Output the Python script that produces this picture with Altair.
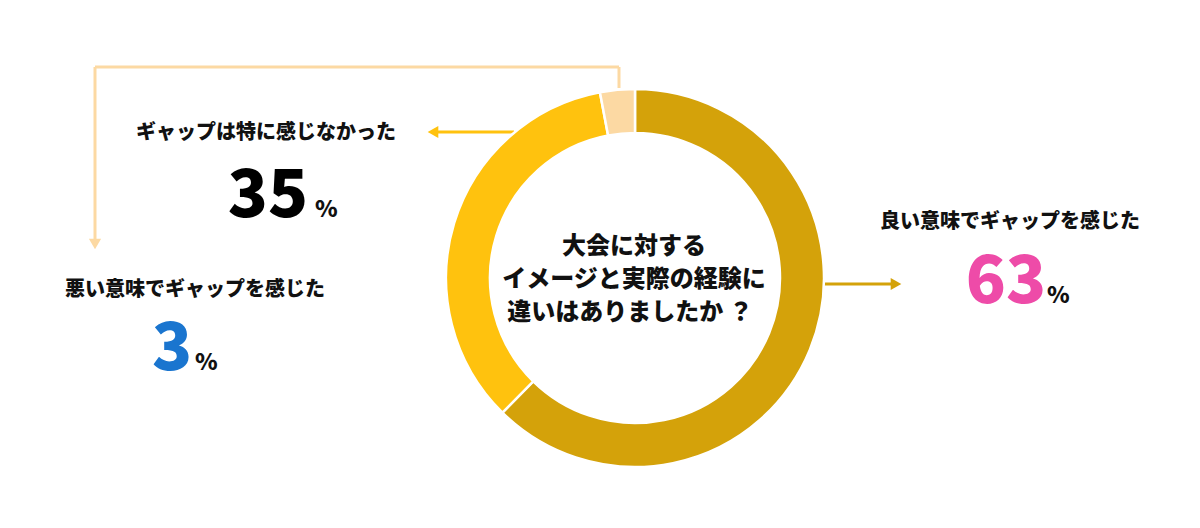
import altair as alt
import pandas as pd

# ---- data ----
categories = ["良い意味でギャップを感じた", "ギャップは特に感じなかった", "悪い意味でギャップを感じた"]
values = [63, 35, 3]
slice_colors = ["#D4A20A", "#FFC20E", "#FCD9A3"]
number_colors = ["#EE4BA8", "#000000", "#1A75CF"]
question_lines = ["大会に対する", "イメージと実際の経験に", "違いはありましたか ？"]

W, H = 1184, 512
FONT = "Noto Sans CJK JP"

# ---- layout (plot pixel coordinates) ----
cx, cy = 627, 270
r_out, r_in = 189, 145
title_pos = [(1002, 214), (258, 125), (187, 282)]
num_pos = [(998, 295), (260, 209), (164, 362)]
pct_pos = [(1039, 295), (307, 209), (187, 362)]
q_pos = [(626, 239), (626, 272), (622, 305)]

xs = alt.Scale(domain=[0, W], range=[0, W])
ys = alt.Scale(domain=[0, H], range=[0, H])

pie = pd.DataFrame({"cat": categories, "value": values, "order": [0, 1, 2]})
color_scale = alt.Scale(domain=categories, range=slice_colors)

donut = alt.Chart(pie).mark_arc(
    radius=r_out, radius2=r_in, stroke="white", strokeWidth=2.5
).encode(
    theta=alt.Theta("value:Q", stack=True),
    order=alt.Order("order:Q"),
    color=alt.Color("cat:N", scale=color_scale, legend=None),
    x=alt.value(cx),
    y=alt.value(cy),
)

# connectors
segs = pd.DataFrame([
    dict(x=611, y=80, x2=611, y2=59, c=slice_colors[2]),
    dict(x=611, y=59, x2=87, y2=59, c=slice_colors[2]),
    dict(x=87, y=59, x2=87, y2=232, c=slice_colors[2]),
    dict(x=506, y=124, x2=430, y2=124, c=slice_colors[1]),
    dict(x=815, y=276, x2=884, y2=276, c=slice_colors[0]),
])
rules = alt.Chart(segs).mark_rule(strokeWidth=3).encode(
    x=alt.X("x:Q", scale=xs, axis=None),
    y=alt.Y("y:Q", scale=ys, axis=None),
    x2="x2:Q", y2="y2:Q",
    color=alt.Color("c:N", scale=None),
)

heads = pd.DataFrame([
    dict(x=87, y=236, shape="triangle-down", c=slice_colors[2]),
    dict(x=425, y=124, shape="triangle-left", c=slice_colors[1]),
    dict(x=888, y=276, shape="triangle-right", c=slice_colors[0]),
])
arrowheads = alt.Chart(heads).mark_point(filled=True, size=150, opacity=1).encode(
    x=alt.X("x:Q", scale=xs, axis=None),
    y=alt.Y("y:Q", scale=ys, axis=None),
    shape=alt.Shape("shape:N", scale=None),
    color=alt.Color("c:N", scale=None),
)

lab = pd.DataFrame({
    "cat": categories,
    "num": [str(v) for v in values],
    "ncol": number_colors,
    "tx": [p[0] for p in title_pos], "ty": [p[1] for p in title_pos],
    "nx": [p[0] for p in num_pos], "ny": [p[1] for p in num_pos],
    "px": [p[0] for p in pct_pos], "py": [p[1] for p in pct_pos],
})

titles = alt.Chart(lab).mark_text(
    font=FONT, fontSize=20, fontWeight=900, color="#111111", align="center", baseline="middle"
).encode(
    x=alt.X("tx:Q", scale=xs, axis=None), y=alt.Y("ty:Q", scale=ys, axis=None), text="cat:N"
)
nums = alt.Chart(lab).mark_text(
    font=FONT, fontSize=66, fontWeight=900, align="center", baseline="alphabetic"
).encode(
    x=alt.X("nx:Q", scale=xs, axis=None), y=alt.Y("ny:Q", scale=ys, axis=None), text="num:N",
    color=alt.Color("ncol:N", scale=None),
)
pcts = alt.Chart(lab).mark_text(
    font=FONT, fontSize=23, fontWeight=900, color="#111111", align="left", baseline="alphabetic"
).encode(
    x=alt.X("px:Q", scale=xs, axis=None), y=alt.Y("py:Q", scale=ys, axis=None), text=alt.value("%")
)

qdf = pd.DataFrame({"t": question_lines, "x": [p[0] for p in q_pos], "y": [p[1] for p in q_pos]})
question = alt.Chart(qdf).mark_text(
    font=FONT, fontSize=24, fontWeight=900, color="#111111", align="center", baseline="middle"
).encode(
    x=alt.X("x:Q", scale=xs, axis=None), y=alt.Y("y:Q", scale=ys, axis=None), text="t:N"
)

chart = alt.layer(rules, arrowheads, donut, titles, nums, pcts, question).properties(
    width=W, height=H, autosize=alt.AutoSizeParams(type="none"), padding=0, background="white"
).configure_view(stroke=None)

chart.save("out.html", embed_options={"renderer": "svg", "actions": False})
